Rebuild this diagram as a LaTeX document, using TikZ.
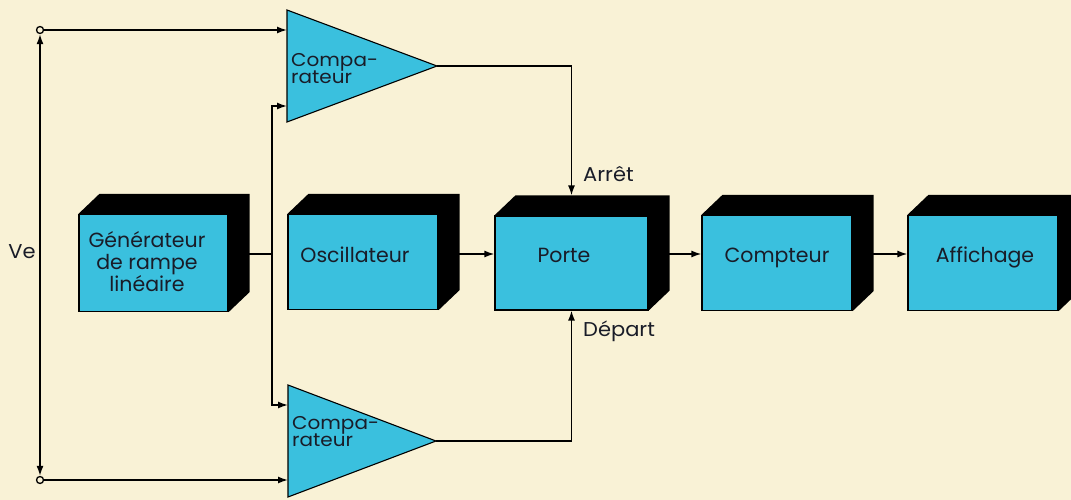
\documentclass[tikz,border=0pt]{standalone}
\usepackage{fontspec}
\setmainfont{Poppins}
\newfontfamily\widefont[FakeStretch=1.05]{Poppins}
\newfontfamily\compfont[FakeStretch=1.08]{Poppins}
\usetikzlibrary{arrows.meta}
\definecolor{bg}{RGB}{249,242,214}
\definecolor{cyanbox}{RGB}{58,192,222}
\definecolor{ink}{RGB}{25,28,40}
\tikzset{
  box/.style={draw=black, line width=1.2pt, fill=cyanbox, minimum width=150pt, minimum height=95pt, inner sep=0pt},
  boxtxt/.style={font=\fontsize{20.5}{22}\selectfont, text=ink, align=center, inner sep=0pt},
  tri/.style={draw=black, line width=1.1pt, fill=cyanbox},
  wire/.style={line width=1.5pt},
  tip/.tip={Latex[length=10pt,width=7pt]},
  arr/.style={wire, -tip},
  term/.style={circle, draw=black, line width=1.3pt, fill=bg, minimum size=7pt, inner sep=0pt},
  lbl/.style={font=\widefont\fontsize{20}{20}\selectfont, text=ink, inner sep=0pt},
  clbl/.style={font=\compfont\fontsize{18.5}{18}\selectfont, text=ink, inner sep=0pt, anchor=base west},
}
\newcommand\boxdepth[1]{\fill[black] (#1.north west) -- ++(21,-20) -- ([shift={(21pt,20pt)}]#1.north east) -- ([shift={(21pt,20pt)}]#1.south east) -- (#1.south east) -- (#1.north east) -- cycle;}
\begin{document}
\begin{tikzpicture}[x=1pt,y=-1pt]
\useasboundingbox (0,0) rectangle (1071,500);
\clip (0,0) rectangle (1071,500);
\fill[bg] (0,0) rectangle (1071,500);

% boxes
\node[box, minimum width=149pt, minimum height=97pt] (gen) at (153.5,263) {};
\node[box] (osc) at (363,262) {};
\node[box, minimum width=153pt, minimum height=94pt] (porte) at (571.5,263) {};
\node[box] (cpt) at (777,263) {};
\node[box] (aff) at (983,263) {};
\boxdepth{gen}\boxdepth{osc}\boxdepth{porte}\boxdepth{cpt}\boxdepth{aff}
\node[boxtxt] (gent) at (147,262) {Générateur\\de rampe\\linéaire};
\node[boxtxt, anchor=base] (osct) at (355,262) {Oscillateur};
\node[boxtxt, anchor=base] (portet) at (564,262) {Porte};
\node[boxtxt, anchor=base] (cptt) at (777,262) {Compteur};
\node[boxtxt, anchor=base] (afft) at (985,262) {Affichage};

% comparators
\draw[tri] (287,10) -- (437,66) -- (287,122) -- cycle;
\coordinate (c1a) at (287,30);
\coordinate (c1b) at (287,106);
\coordinate (c1o) at (437,66);
\node[clbl] (c1t1) at (291,67) {Compa-};
\node[clbl] (c1t2) at (291,84) {rateur};
\draw[tri] (288,385) -- (436,441) -- (288,497) -- cycle;
\coordinate (c2a) at (288,405);
\coordinate (c2b) at (288,480);
\coordinate (c2o) at (436,441);
\node[clbl] (c2t1) at (292,429) {Compa-};
\node[clbl] (c2t2) at (292,446) {rateur};

% terminals
\node[term] (t1) at (40,30) {};
\node[term] (t2) at (40,480) {};
\node[lbl, anchor=base] (ve) at (22,258) {Ve};

% wires
\draw[wire,tip-tip] (t1) -- (t2);
\draw[arr] (t1) -- (c1a);
\draw[arr] (t2) -- (c2b);
\coordinate (br) at (272,254);
\draw[wire] (gen.east |- br) -- (br);
\draw[arr] (br) |- (c1b);
\draw[arr] (br) |- (c2a);
\draw[arr] (osc.east |- br) -- (porte.west |- br);
\draw[arr] (porte.east |- br) -- (cpt.west |- br);
\draw[arr] (cpt.east |- br) -- (aff.west |- br);
\coordinate (ptop) at ([yshift=20pt]porte.north);
\draw[arr] (c1o) -| (ptop);
\draw[arr] (c2o) -| (porte.south);
\node[lbl, anchor=base west] (arret) at (583,181) {Arrêt};
\node[lbl, anchor=base west] (depart) at (583,336) {Départ};
\end{tikzpicture}
\end{document}
